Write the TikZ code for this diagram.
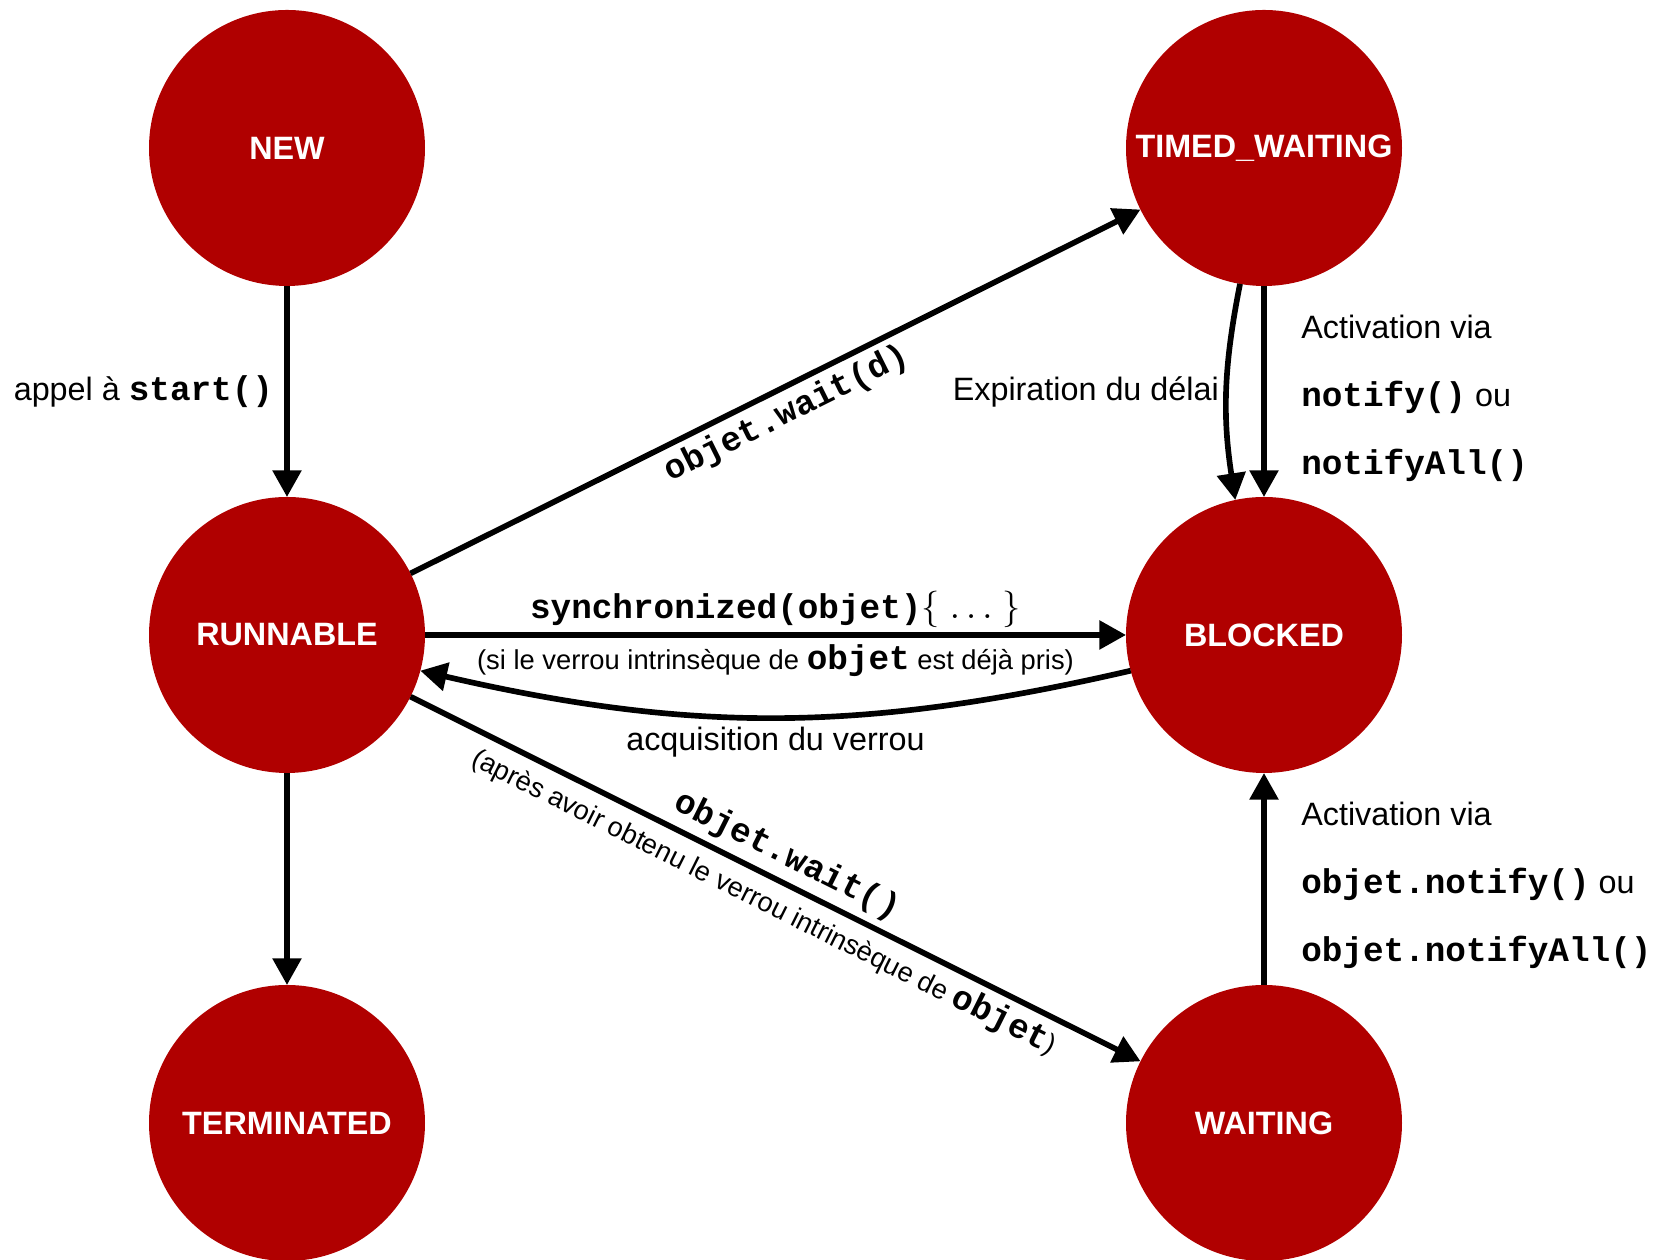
\documentclass[tikz,border=0pt]{standalone}
\usepackage{fontspec}
\setmainfont{Liberation Sans}
\setmonofont{Liberation Mono}
\usetikzlibrary{arrows.meta}

\definecolor{statered}{RGB}{176,0,0}
\newcommand\code[1]{{\fontsize{10.3}{12}\selectfont\ttfamily\bfseries #1}}

\tikzset{
  state/.style={circle, fill=statered, minimum size=82.8pt, inner sep=0pt,
    outer sep=0pt, text=white, font=\fontsize{9.7}{12}\selectfont\bfseries},
  trans/.style={line width=1.7pt, -{Triangle[length=8pt, width=8.4pt]}},
  lbl/.style={font=\fontsize{9.7}{12}\selectfont},
  remark/.style={font=\fontsize{8.2}{10}\selectfont, inner sep=2pt},
  multi/.style={align=left, font=\fontsize{9.7}{20.4}\selectfont, yshift=-2pt},
}

\begin{document}
\begin{tikzpicture}[x=0.3pt, y=0.3pt]
  \useasboundingbox (0, 0) rectangle (1668, 1260);

  % Thread states
  \foreach \name/\x/\y/\txt in {
    new/287/1112/NEW,
    timed/1264/1112/TIMED\_WAITING,
    run/287/625/RUNNABLE,
    blocked/1264/625/BLOCKED,
    term/287/137/TERMINATED,
    waiting/1264/137/WAITING
  } {
    \node [state] (\name) at (\x, \y) {\txt};
  }

  % Transitions
  \draw [trans] (new) -- node [left, lbl] {appel à \code{start()}} (run);
  \draw [trans] (run) -- (term);

  \draw [trans] (run) -- node [sloped, below, lbl, inner sep=2pt] {\code{objet.wait(d)}} (timed);
  \draw [trans] (timed.260) to [bend right=10]
    node [left, lbl, inner sep=1.5pt] {Expiration du délai} (blocked.102);
  \draw [trans] (timed) -- node [right=7pt, multi]
    {Activation via\\ \code{notify()} ou\\ \code{notifyAll()}} (blocked);

  \draw [trans] (run) --
    node [above, lbl, inner sep=1.5pt] {\code{synchronized(objet)}{\fontsize{11}{12}\selectfont$\{\;\ldots\;\}$}}
    node [below, remark] {(si le verrou intrinsèque de \code{objet} est déjà pris)} (blocked);
  \draw [trans] (blocked.195) to [bend left=13]
    node [below, lbl, inner sep=2pt] {acquisition du verrou} (run.-15);

  \draw [trans] (run) --
    node [sloped, above, lbl, inner sep=2pt] {\code{objet.wait()}}
    node [sloped, below, remark] {(après avoir obtenu le verrou intrinsèque de \code{objet})} (waiting);
  \draw [trans] (waiting) -- node [right=7pt, multi]
    {Activation via\\ \code{objet.notify()} ou\\ \code{objet.notifyAll()}} (blocked);

\end{tikzpicture}
\end{document}
